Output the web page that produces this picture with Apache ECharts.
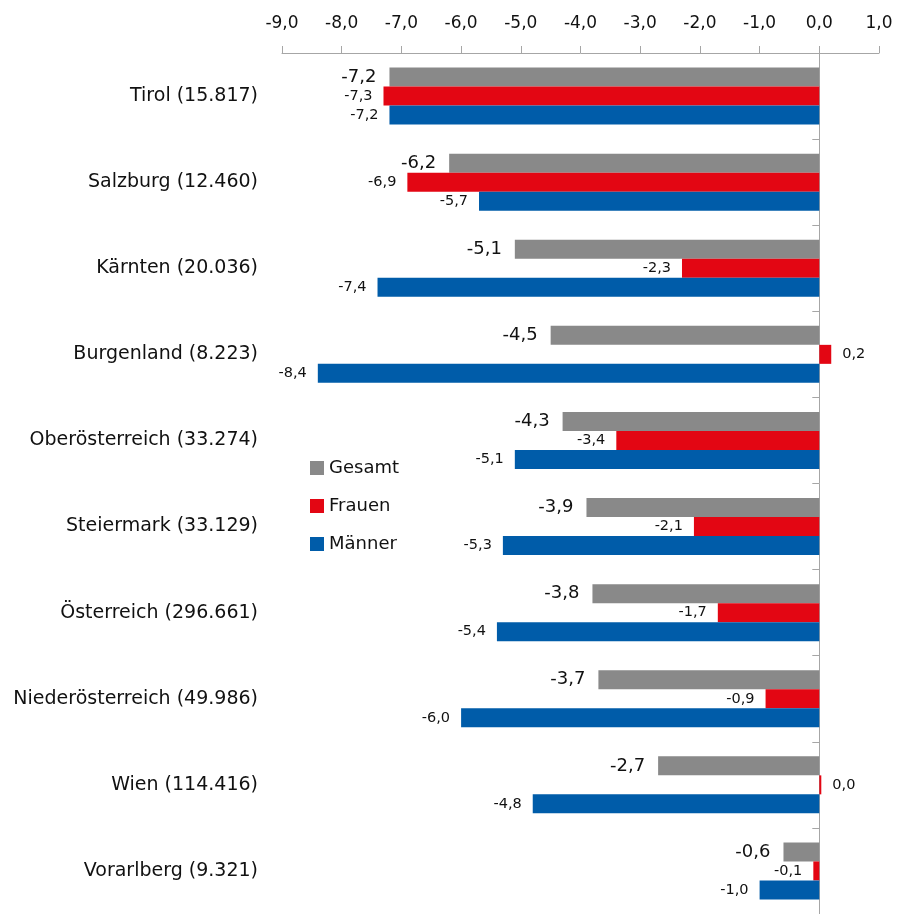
<!DOCTYPE html>
<html>
<head>
<meta charset="utf-8">
<script src="https://cdn.jsdelivr.net/npm/echarts@6/dist/echarts.min.js"></script>
<style>
  html, body { margin: 0; padding: 0; background: #fff; }
  #chart { width: 897px; height: 914px; }
</style>
</head>
<body>
<div id="chart"></div>
<script>
const regions = [
  'Tirol (15.817)', 'Salzburg (12.460)', 'Kärnten (20.036)', 'Burgenland (8.223)',
  'Oberösterreich (33.274)', 'Steiermark (33.129)', 'Österreich (296.661)',
  'Niederösterreich (49.986)', 'Wien (114.416)', 'Vorarlberg (9.321)'
]
const gesamt = [-7.2, -6.2, -5.1, -4.5, -4.3, -3.9, -3.8, -3.7, -2.7, -0.6]
const frauen = [-7.3, -6.9, -2.3, 0.2, -3.4, -2.1, -1.7, -0.9, 0.0, -0.1]
const maenner = [-7.2, -5.7, -7.4, -8.4, -5.1, -5.3, -5.4, -6.0, -4.8, -1.0]

const FONT = 'DejaVu Sans'
const fmt = (v) => v.toFixed(1).replace('.', ',')

function makeSeries(name, values, color, fontSize, distance) {
  return {
    name,
    type: 'bar',
    yAxisIndex: 0,
    barWidth: 19,
    barGap: '0%',
    barMinHeight: 2,
    itemStyle: { color },
    label: {
      show: true,
      distance,
      fontFamily: FONT,
      fontSize,
      color: '#111',
      formatter: (p) => fmt(p.value)
    },
    data: values.map((v) => ({
      value: v,
      label: { position: v >= 0 ? 'right' : 'left' }
    }))
  }
}

const chart = echarts.init(document.getElementById('chart'))
chart.setOption({
  animation: false,
  grid: { left: 282, right: 18, top: 53, height: 862 },
  legend: {
    orient: 'vertical',
    left: 310,
    top: 458,
    padding: 0,
    itemWidth: 14,
    itemHeight: 14,
    itemGap: 18,
    icon: 'rect',
    textStyle: { fontFamily: FONT, fontSize: 18, color: '#111', lineHeight: 20 },
    data: ['Gesamt', 'Frauen', 'Männer']
  },
  xAxis: {
    type: 'value',
    position: 'top',
    min: -9,
    max: 1,
    interval: 1,
    axisLine: { show: true, onZero: false, lineStyle: { color: '#a6a6a6' } },
    axisTick: { show: true, length: 7, lineStyle: { color: '#a6a6a6' } },
    splitLine: { show: false },
    axisLabel: {
      margin: 21,
      fontFamily: FONT,
      fontSize: 17,
      color: '#111',
      formatter: (v) => fmt(v)
    }
  },
  yAxis: [
    {
      type: 'category',
      inverse: true,
      data: regions,
      position: 'left',
      axisLine: { show: false, onZero: false },
      axisTick: { show: false },
      axisLabel: { margin: 24, fontFamily: FONT, fontSize: 19, color: '#111' }
    },
    {
      type: 'category',
      inverse: true,
      data: regions,
      position: 'right',
      axisLine: { show: true, onZero: true, lineStyle: { color: '#a6a6a6' } },
      axisTick: { show: true, inside: true, length: 7, lineStyle: { color: '#a6a6a6' } },
      axisLabel: { show: false }
    }
  ],
  series: [
    makeSeries('Gesamt', gesamt, '#898989', 18, 13),
    makeSeries('Frauen', frauen, '#e30613', 14.5, 11),
    makeSeries('Männer', maenner, '#005ca9', 14.5, 11)
  ]
})
</script>
</body>
</html>
